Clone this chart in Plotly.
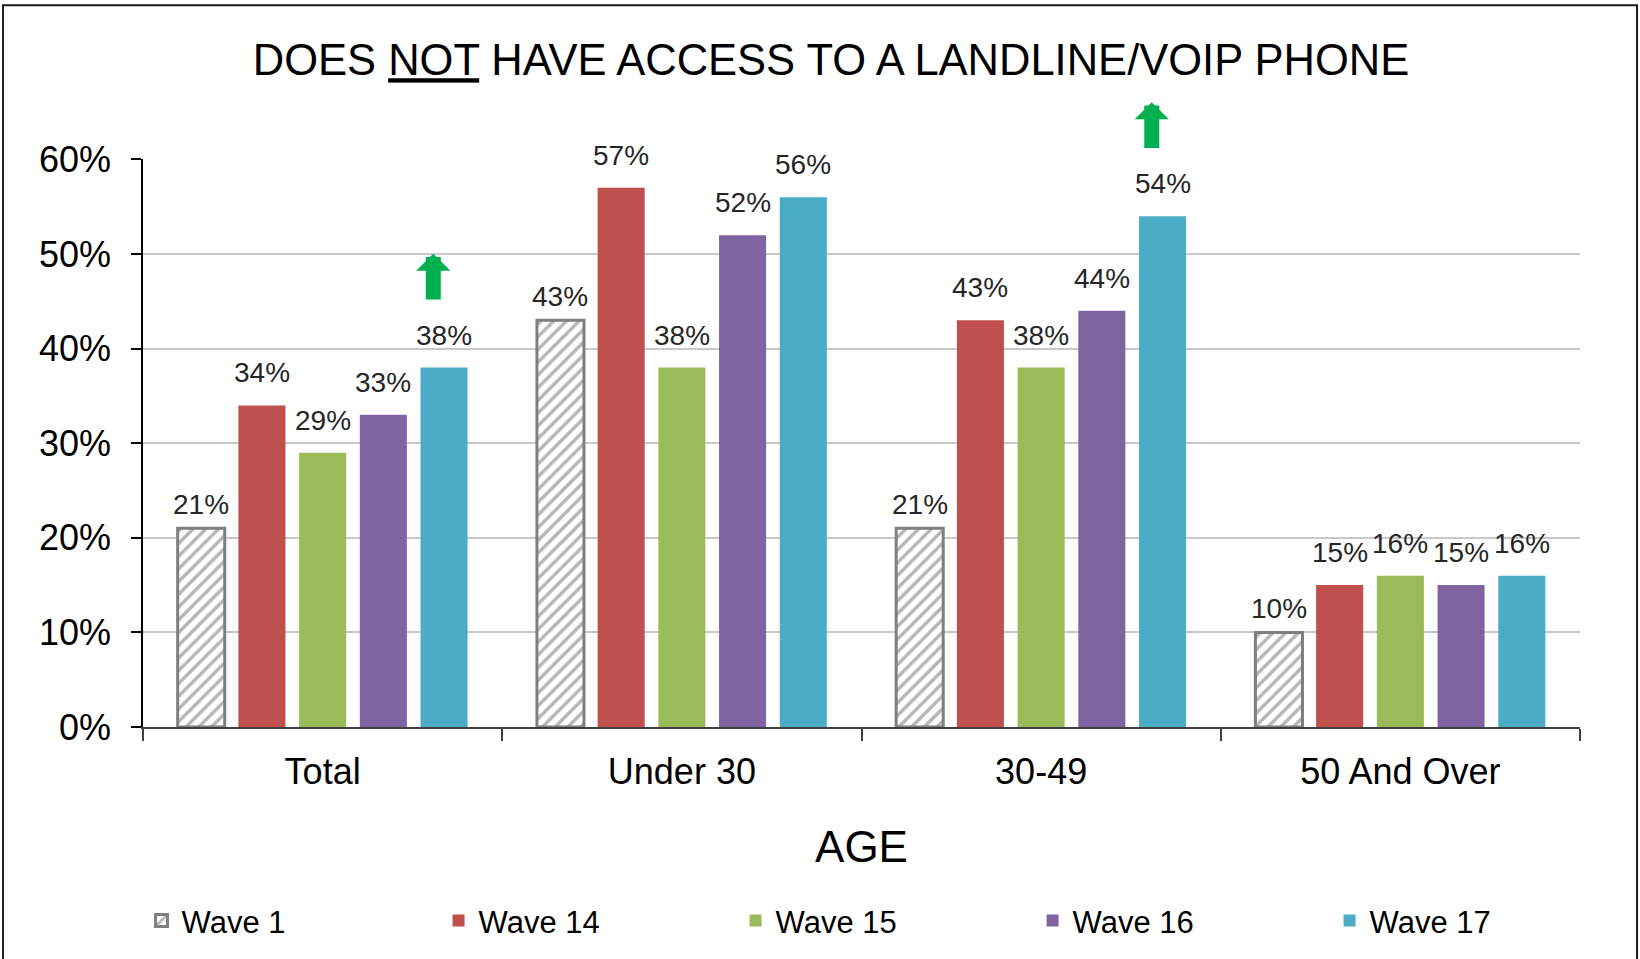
import plotly.graph_objects as go

# ---- data ----
categories = ["Total", "Under 30", "30-49", "50 And Over"]
series_names = ["Wave 1", "Wave 14", "Wave 15", "Wave 16", "Wave 17"]
wave1 = [21, 43, 21, 10]
wave14 = [34, 57, 43, 15]
wave15 = [29, 38, 38, 16]
wave16 = [33, 52, 44, 15]
wave17 = [38, 56, 54, 16]
y_tick_values = [0, 10, 20, 30, 40, 50, 60]
y_tick_labels = ["0%", "10%", "20%", "30%", "40%", "50%", "60%"]
# categories where Wave 17 is flagged with a green "increase" arrow
arrow_categories = ["Total", "30-49"]

series_values = [wave1, wave14, wave15, wave16, wave17]
colors = ["#FFFFFF", "#C0504D", "#9BBB59", "#8064A2", "#4BACC6"]
label_lift = [6, 15, 15, 15, 15]   # px gap of value labels above bars

FONT = "Liberation Sans, Arial, sans-serif"
BARGAP = 0.155
BARGROUPGAP = 0.225
Y_MAX = 60
MARGIN = dict(l=143, r=60, t=159, b=231)
HEIGHT = 959
PLOT_H = HEIGHT - MARGIN["t"] - MARGIN["b"]

n = len(series_names)
slot = (1 - BARGAP) / n

fig = go.Figure()
for j, (name, vals, col) in enumerate(zip(series_names, series_values, colors)):
    if j == 0:
        marker = dict(color="#FFFFFF",
                      pattern=dict(shape="/", fgcolor="#6E6E6E", bgcolor="#FFFFFF",
                                   size=9, solidity=0.38),
                      line=dict(color="#7F7F7F", width=3))
    else:
        marker = dict(color=col, line=dict(width=0))
    fig.add_trace(go.Bar(
        name=name, x=categories, y=vals, marker=marker,
        cliponaxis=False, hoverinfo="skip",
    ))
    # value labels, positioned on the bar centres of the grouped layout
    off = (j - (n - 1) / 2) * slot
    for idx, v in enumerate(vals):
        fig.add_annotation(
            x=idx + off, y=v, xref="x", yref="y", xanchor="center", yanchor="bottom",
            yshift=label_lift[j], text=f"{v}%", showarrow=False,
            font=dict(family=FONT, size=28, color="#262626"),
        )

# green arrows above the Wave 17 bars (position derived from bar layout)
offset17 = (n - 1 - (n - 1) / 2) * slot
for cat in arrow_categories:
    idx = categories.index(cat)
    v = wave17[idx]
    xa = idx + offset17 - 0.03
    fig.add_annotation(
        x=xa, y=(v + 12) / Y_MAX, xref="x", yref="paper",
        ax=0, ay=5 * PLOT_H / Y_MAX, axref="pixel", ayref="pixel",
        text="", showarrow=True, arrowhead=1, arrowwidth=15, arrowsize=0.38,
        arrowcolor="#00B050", standoff=0, startstandoff=0,
    )

# outer frame
fig.add_shape(type="rect", xref="paper", yref="paper",
              x0=-0.0974, x1=1.0397, y0=-0.45, y1=1.2707,
              line=dict(color="#1a1a1a", width=2), fillcolor="rgba(0,0,0,0)", layer="below")

fig.update_layout(
    width=1640, height=HEIGHT,
    margin=MARGIN,
    paper_bgcolor="white", plot_bgcolor="white",
    barmode="group", bargap=BARGAP, bargroupgap=BARGROUPGAP,
    title=dict(text="DOES <u>NOT</u> HAVE ACCESS TO A LANDLINE/VOIP PHONE",
               x=0.5067, xref="container", xanchor="center",
               y=0.9374, yref="container", yanchor="middle",
               font=dict(family=FONT, size=43.5, color="#000000")),
    font=dict(family=FONT, color="#000000"),
    showlegend=True,
    legend=dict(orientation="h", x=-0.001, xanchor="left", y=-0.339, yanchor="middle",
                font=dict(family=FONT, size=31, color="#000000"),
                entrywidth=252, entrywidthmode="pixels",
                bgcolor="rgba(0,0,0,0)", traceorder="normal"),
)

fig.update_xaxes(
    type="category", showline=True, linecolor="#404040", linewidth=2,
    ticks="outside", tickson="boundaries", ticklen=12, tickcolor="#404040", tickwidth=2,
    tickfont=dict(family=FONT, size=36, color="#000000"),
    ticklabelstandoff=12,
    showgrid=False,
    title=dict(text="AGE", font=dict(family=FONT, size=44, color="#000000"), standoff=40),
)
fig.update_yaxes(
    range=[0, Y_MAX + 0.05], tickvals=y_tick_values, ticktext=y_tick_labels,
    showline=True, linecolor="#000000", linewidth=1.5,
    ticks="outside", ticklen=10, tickcolor="#000000", tickwidth=1.5,
    tickfont=dict(family=FONT, size=36, color="#000000"),
    showgrid=True, gridcolor="#C8C8C8", gridwidth=1.5, zeroline=False,
    ticklabelstandoff=13,
)

fig.write_html("out.html")
